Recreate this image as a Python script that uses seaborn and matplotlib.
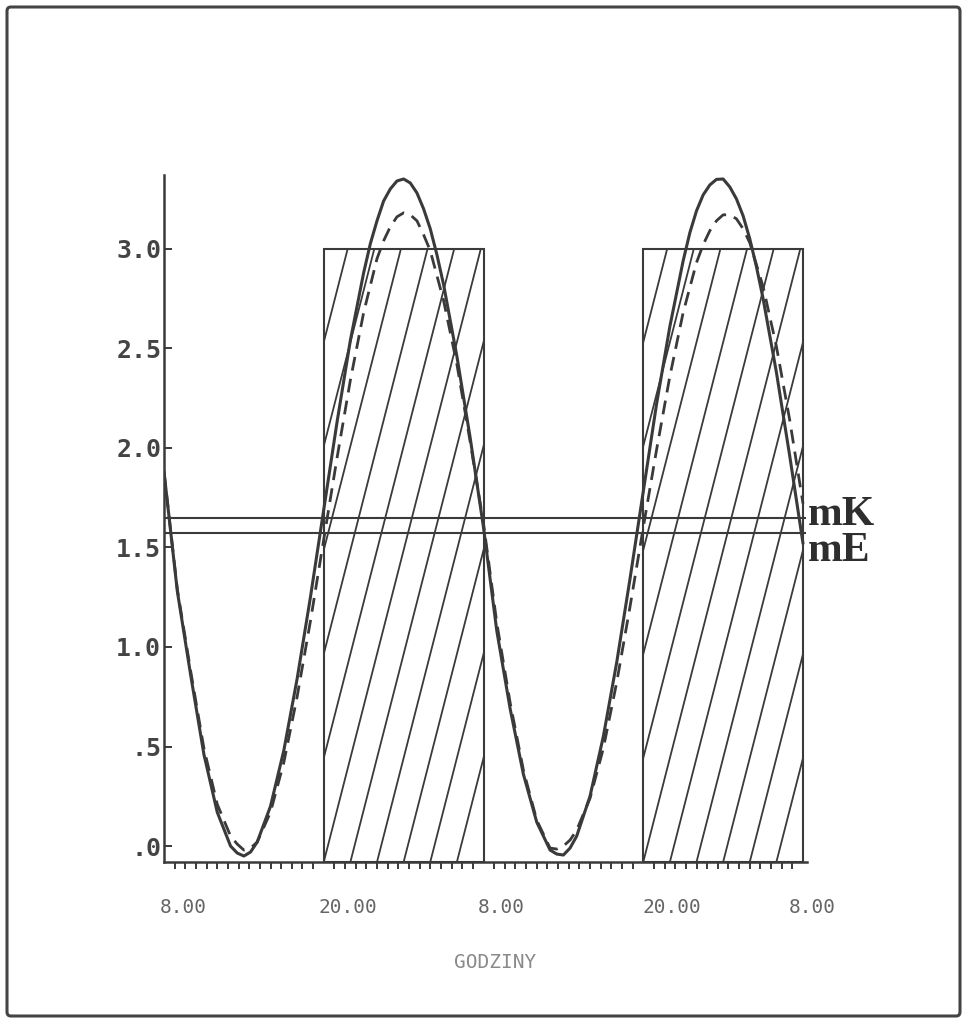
import numpy as np
import matplotlib
matplotlib.use("Agg")
import matplotlib.pyplot as plt
import matplotlib.patches as mpatches
from matplotlib.transforms import ScaledTranslation
import seaborn as sns
import pandas as pd

# dane (godziny liczone od 8.00)
godz_k = [0, 1, 2, 3, 4, 5, 5.5, 6, 6.5, 7, 8, 9, 10, 11, 12, 13, 14, 15, 15.5, 16, 16.5,
          17, 17.5, 18, 18.5, 19, 19.5, 20, 20.5, 21, 22, 23, 24, 25, 26, 27, 28, 29, 29.5,
          30, 30.5, 31, 32, 33, 34, 35, 36, 37, 38, 39, 39.5, 40, 40.5, 41, 41.5, 42, 42.5,
          43, 43.5, 44, 44.5, 45, 46, 47, 48]
krzywa_k = [1.88, 1.28, 0.86, 0.46, 0.17, 0.00, -0.035, -0.05, -0.03, 0.02, 0.20, 0.48,
            0.84, 1.25, 1.69, 2.13, 2.54, 2.88, 3.025, 3.14, 3.24, 3.30, 3.34, 3.35, 3.33,
            3.28, 3.20, 3.10, 2.97, 2.82, 2.46, 2.05, 1.60, 1.08, 0.69, 0.36, 0.12, -0.02,
            -0.04, -0.045, -0.01, 0.05, 0.25, 0.55, 0.92, 1.34, 1.78, 2.22, 2.61, 2.94, 3.08,
            3.19, 3.27, 3.32, 3.348, 3.35, 3.31, 3.25, 3.165, 3.05, 2.91, 2.75, 2.38, 1.96, 1.52]
godz_e = [0, 1, 2, 3, 4, 5, 5.5, 6, 6.5, 7, 8, 9, 10, 11, 12, 13, 14, 15, 16, 16.5, 17,
          17.5, 18, 18.5, 19, 19.5, 20, 21, 22, 23, 24, 25, 26, 27, 28, 29, 29.5, 30, 30.5,
          31, 32, 33, 34, 35, 36, 37, 38, 39, 40, 40.5, 41, 41.5, 42, 42.5, 43, 43.5, 44,
          45, 46, 47, 48]
krzywa_e = [1.88, 1.29, 0.88, 0.49, 0.21, 0.05, 0.01, -0.02, -0.01, 0.02, 0.17, 0.42,
            0.75, 1.13, 1.54, 1.95, 2.34, 2.68, 2.95, 3.04, 3.11, 3.16, 3.18, 3.17, 3.14,
            3.07, 2.99, 2.74, 2.42, 2.03, 1.62, 1.12, 0.72, 0.38, 0.13, -0.01, -0.015, 0.00,
            0.03, 0.08, 0.24, 0.49, 0.82, 1.20, 1.60, 1.99, 2.36, 2.68, 2.93, 3.02, 3.09,
            3.14, 3.17, 3.17, 3.15, 3.10, 3.03, 2.81, 2.51, 2.14, 1.72]
noc_od = [12, 36]
noc_do = [24, 48]
poziom_nocy = 3.0
srednia_k = 1.65
srednia_e = 1.57
pozycje_x = [0, 12, 24, 36, 48]
etykiety_x = ["8.00", "20.00", "8.00", "20.00", "8.00"]
pozycje_y = [0.0, 0.5, 1.0, 1.5, 2.0, 2.5, 3.0]
etykiety_y = [".0", ".5", "1.0", "1.5", "2.0", "2.5", "3.0"]

sns.set_theme(style="white")
kolor = "#3a3a3a"

fig = plt.figure(figsize=(9.68, 10.26), dpi=100)
ax = fig.add_axes([164 / 968, 164 / 1026, 643 / 968, 687 / 1026])
Y_DOL = -0.08
ax.set_xlim(0, 48.3)
ax.set_ylim(Y_DOL, 3.37)

# prostokaty (noc) z ukosnym kreskowaniem
for a, b in zip(noc_od, noc_do):
    rect = mpatches.Rectangle((a, Y_DOL), b - a, poziom_nocy - Y_DOL, fill=False,
                              edgecolor=kolor, lw=1.5, zorder=2, clip_on=False)
    ax.add_patch(rect)
    for x0 in np.arange(a - 12, b, 2):
        ln, = ax.plot([x0, x0 + 11.8], [Y_DOL, poziom_nocy], color=kolor, lw=1.3, zorder=1)
        ln.set_clip_path(rect)

df_k = pd.DataFrame({"godz": godz_k, "wartosc": krzywa_k})
df_e = pd.DataFrame({"godz": godz_e, "wartosc": krzywa_e})
sns.lineplot(data=df_k, x="godz", y="wartosc", ax=ax, color=kolor, lw=2.2, zorder=4)
sns.lineplot(data=df_e, x="godz", y="wartosc", ax=ax, color=kolor, lw=2.0,
             linestyle=(0, (5, 3)), zorder=3)

# linie srednich
ax.hlines([srednia_k, srednia_e], 0, 48.2, color=kolor, lw=1.5, zorder=3)
ax.text(48.4, srednia_k - 0.04, "mK", fontfamily="Liberation Serif", fontweight="bold",
        fontsize=30, va="baseline", ha="left", color="#2e2e2e", clip_on=False)
ax.text(48.4, srednia_e - 0.14, "mE", fontfamily="Liberation Serif", fontweight="bold",
        fontsize=30, va="baseline", ha="left", color="#2e2e2e", clip_on=False)

# osie
sns.despine(ax=ax)
for s in ["left", "bottom"]:
    ax.spines[s].set_color(kolor)
    ax.spines[s].set_linewidth(1.8)

ax.set_yticks(pozycje_y)
ax.set_yticklabels(etykiety_y, fontfamily="DejaVu Sans Mono", fontweight="bold",
                   fontsize=18, color="#444444")
ax.tick_params(axis="y", direction="in", length=6, width=1.4, color=kolor, pad=2, left=True)

ax.set_xticks(pozycje_x)
ax.set_xticklabels(etykiety_x, fontfamily="DejaVu Sans Mono", fontsize=14, color="#666666")
ax.tick_params(axis="x", which="major", length=0, pad=26)
ax.set_xticks(np.arange(0, 48.3, 0.8), minor=True)
ax.tick_params(axis="x", which="minor", direction="out", length=5, width=1.4,
               color=kolor, bottom=True)
for lab, dx in zip(ax.get_xticklabels(), [19, 24, 18, 29, 9]):
    lab.set_transform(lab.get_transform() + ScaledTranslation(dx / 100, 0, fig.dpi_scale_trans))

ax.set_ylabel("")
ax.set_xlabel("GODZINY", fontfamily="DejaVu Sans Mono", fontsize=14, color="#8a8a8a", va="center")
ax.xaxis.set_label_coords((495 - 164) / 643, -(962 - 862) / 687)
ax.grid(False)

# ramka wokol calosci
fig.patches.append(mpatches.FancyBboxPatch(
    (7 / 968, 1 - 1016 / 1026), (960 - 7) / 968, (1016 - 7) / 1026,
    boxstyle="round,pad=0,rounding_size=0.004", transform=fig.transFigure,
    fill=False, edgecolor="#444444", lw=2.2))

fig.savefig("out.png", dpi=100)
